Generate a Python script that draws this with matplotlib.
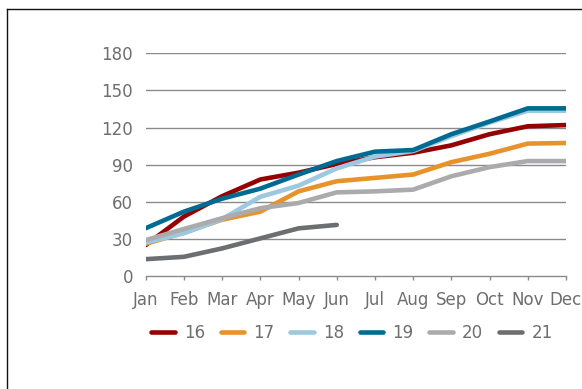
import matplotlib
matplotlib.use('Agg')
import matplotlib.pyplot as plt
from matplotlib.lines import Line2D

# Monthly cumulative values per year
months = ['Jan', 'Feb', 'Mar', 'Apr', 'May', 'Jun',
          'Jul', 'Aug', 'Sep', 'Oct', 'Nov', 'Dec']
years = ['16', '17', '18', '19', '20', '21']

y16 = [25, 48, 64.5, 78, 83.5, 90.5, 96, 99.6, 105.6, 114.6, 121, 122]
y17 = [26, 35, 45.5, 52, 68.4, 76.6, 79.3, 82, 92, 98.8, 107, 107.5]
y18 = [27, 34.5, 46, 64, 73, 87, 96.5, 101, 113, 124, 133.6, 133.6]
y19 = [38.6, 52, 62.5, 70.6, 82, 92.9, 100.5, 101.8, 114.6, 124.9, 135.5, 135.5]
y20 = [29, 38, 46.7, 54.8, 59, 67.6, 68.4, 69.8, 80.6, 88, 92.9, 92.9]
y21 = [13.6, 15.5, 22.3, 30.4, 38.5, 41.3]

series = [y16, y17, y18, y19, y20, y21]
colors = ['#960000', '#E8922B', '#9CC8E0', '#006B92', '#ABABAD', '#6D6E71']

text_color = '#6E6E6E'
grid_color = '#8A8A8A'
plt.rcParams['font.family'] = ['DejaVu Sans']

fig = plt.figure(figsize=(5.82, 3.89), dpi=100)
fig.patch.set_facecolor('white')

# frame around the chart area (open on right and bottom)
bx = 6.7 / 582
by = 1 - 9.3 / 389
fig.add_artist(Line2D([bx, bx], [0, by], transform=fig.transFigure,
                      color='#111111', lw=1.0))
fig.add_artist(Line2D([bx, 1], [by, by], transform=fig.transFigure,
                      color='#111111', lw=1.0))

ax = fig.add_axes([0.2503, 0.2905, 0.7222, 0.5725])
x = list(range(len(months)))

for vals, col, lab in zip(series, colors, years):
    ax.plot(x[:len(vals)], vals, color=col, lw=3.3, label=lab,
            solid_capstyle='round', solid_joinstyle='round', zorder=3)

ax.set_xlim(0, 11)
ax.set_ylim(0, 180)
ax.set_yticks([0, 30, 60, 90, 120, 150, 180])
ax.set_xticks(x)
ax.set_xticklabels(months)

for v in [30, 60, 90, 120, 150, 180]:
    ax.axhline(v, color=grid_color, lw=1.0, zorder=1)

for s in ['top', 'right', 'left']:
    ax.spines[s].set_visible(False)
ax.spines['bottom'].set_color(grid_color)
ax.spines['bottom'].set_linewidth(1.0)

ax.tick_params(axis='x', length=3, width=1, color=grid_color, pad=8,
               labelsize=12, labelcolor=text_color)
ax.tick_params(axis='y', length=0, pad=9, labelsize=12,
               labelcolor=text_color)

handles = [Line2D([], [], color=c, lw=3.3, solid_capstyle='round')
           for c in colors]
fig.legend(handles, years, loc='center', ncol=6,
           bbox_to_anchor=(352 / 582, 1 - 333 / 389),
           frameon=False, fontsize=12, labelcolor=text_color,
           handlelength=1.4, handletextpad=0.55, columnspacing=0.95)

fig.savefig('out.png', dpi=100)
